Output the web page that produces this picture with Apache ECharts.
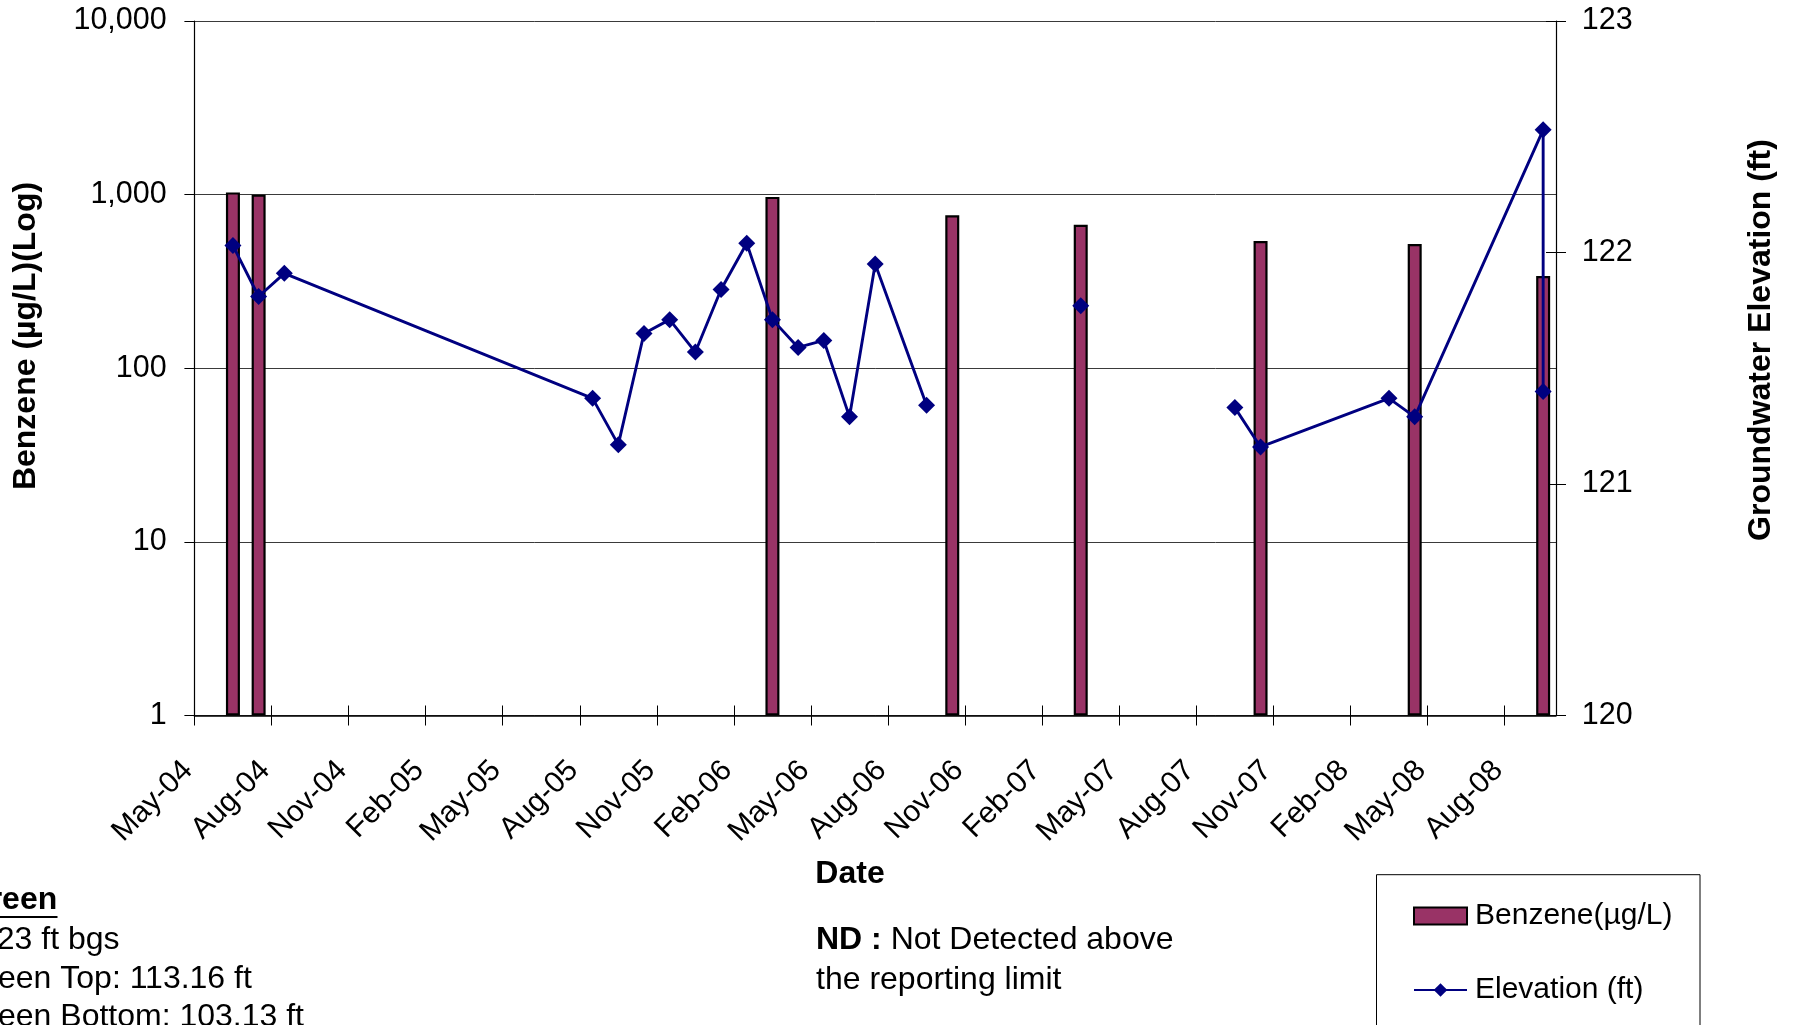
<!DOCTYPE html>
<html>
<head>
<meta charset="utf-8">
<title>Benzene and Groundwater Elevation</title>
<script src="https://cdn.jsdelivr.net/npm/echarts@6/dist/echarts.min.js"></script>
<style>
  html, body { margin: 0; padding: 0; background: #fff; }
  #chart { width: 1800px; height: 1025px; }
</style>
</head>
<body>
<div id="chart"></div>
<script>
// Benzene samples (month sampled, concentration in µg/L)
const sampleMonths = ['2004-06', '2004-07', '2006-03', '2006-10', '2007-03', '2007-10', '2008-04', '2008-09'];
const benzene = [1030, 1000, 970, 760, 670, 540, 520, 340];

// Groundwater gauging (null = not gauged, breaks the line)
const gaugeMonths = ['2004-06', '2004-07', '2004-08', '2005-08', '2005-09', '2005-10', '2005-11', '2005-12',
  '2006-01', '2006-02', '2006-03', '2006-04', '2006-05', '2006-06', '2006-07', '2006-09', '2006-10',
  '2007-03', '2007-06', '2007-09', '2007-10', '2008-03', '2008-04', '2008-09', '2008-09'];
const elevation = [122.03, 121.81, 121.91, 121.37, 121.17, 121.65, 121.71, 121.57,
  121.84, 122.04, 121.71, 121.59, 121.62, 121.29, 121.95, 121.34, null,
  121.77, null, 121.33, 121.16, 121.37, 121.29, 122.53, 121.40];

// Date axis tick labels, one every three months starting May-04
const monthLabels = ['May-04', 'Aug-04', 'Nov-04', 'Feb-05', 'May-05', 'Aug-05', 'Nov-05', 'Feb-06', 'May-06',
  'Aug-06', 'Nov-06', 'Feb-07', 'May-07', 'Aug-07', 'Nov-07', 'Feb-08', 'May-08', 'Aug-08'];

const benzeneTicks = [1, 10, 100, 1000, 10000];
const elevationTicks = [120, 121, 122, 123];

// Months are plotted at their centre, counted from May 2004
const START_YEAR = 2004, START_MONTH = 5, AXIS_MONTHS = 53;
function monthPos(ym) {
  const [y, m] = ym.split('-').map(Number);
  return (y - START_YEAR) * 12 + (m - START_MONTH) + 0.5;
}

const FONT = "'Liberation Sans', Arial, Helvetica, sans-serif";
const BAR_FILL = '#993366';
const LINE_COLOR = '#000080';

const chart = echarts.init(document.getElementById('chart'), null, { renderer: 'canvas' });

const xBase = {
  type: 'value', min: 0, max: AXIS_MONTHS, interval: 3, gridIndex: 0, position: 'bottom',
  splitLine: { show: false }
};
const rightBase = {
  type: 'value', min: elevationTicks[0], max: elevationTicks[elevationTicks.length - 1], interval: 1,
  position: 'right', splitLine: { show: false }
};

chart.setOption({
  backgroundColor: '#ffffff',
  animation: false,
  textStyle: { fontFamily: FONT },
  grid: { left: 194.4, right: 244, top: 21, bottom: 309.5, containLabel: false },
  legend: {
    orient: 'vertical',
    left: 1413, top: 901,
    padding: 0,
    itemGap: 44,
    itemWidth: 53, itemHeight: 17,
    textStyle: { fontFamily: FONT, fontSize: 30, color: '#000', padding: [0, 0, 0, 3] },
    data: [{ name: 'Benzene(µg/L)', icon: 'rect' }, { name: 'Elevation (ft)' }]
  },
  xAxis: [
    Object.assign({}, xBase, {
      axisLine: { onZero: false, lineStyle: { color: '#000', width: 1.5 } },
      axisTick: { length: 10, lineStyle: { color: '#000', width: 1 } },
      axisLabel: {
        showMaxLabel: false,
        rotate: 45, margin: 44, align: 'right', verticalAlign: 'middle',
        padding: [0, 9, 0, 0],
        fontFamily: FONT, fontSize: 30, color: '#000',
        formatter: v => (v % 3 === 0 && monthLabels[v / 3]) ? monthLabels[v / 3] : ''
      }
    }),
    Object.assign({}, xBase, {
      axisLine: { show: false, onZero: false },
      axisTick: { inside: true, length: 10, lineStyle: { color: '#000', width: 1 } },
      axisLabel: { show: false }
    })
  ],
  yAxis: [
    {
      type: 'log', logBase: 10, min: benzeneTicks[0], max: benzeneTicks[benzeneTicks.length - 1],
      position: 'left',
      axisLine: { show: true, onZero: false, lineStyle: { color: '#000', width: 1.2 } },
      axisTick: { show: true, length: 10, lineStyle: { color: '#000', width: 1 } },
      axisLabel: {
        margin: 27.7, fontFamily: FONT, fontSize: 30.5, color: '#000',
        formatter: v => Number(v).toLocaleString('en-US')
      },
      splitLine: { show: true, lineStyle: { color: '#3a3a3a', width: 1 } }
    },
    Object.assign({}, rightBase, {
      axisLine: { show: true, onZero: false, lineStyle: { color: '#000', width: 1.2 } },
      axisTick: { show: true, length: 10, lineStyle: { color: '#000', width: 1 } },
      axisLabel: { margin: 25.7, fontFamily: FONT, fontSize: 30.5, color: '#000' }
    }),
    Object.assign({}, rightBase, {
      axisLine: { show: false, onZero: false },
      axisTick: { show: true, inside: true, length: 10, lineStyle: { color: '#000', width: 1 } },
      axisLabel: { show: false }
    })
  ],
  series: [
    {
      name: 'Benzene(µg/L)',
      type: 'bar',
      xAxisIndex: 0, yAxisIndex: 0,
      barWidth: 14,
      itemStyle: { color: BAR_FILL, borderColor: '#000', borderWidth: 2.2 },
      data: sampleMonths.map((m, i) => [monthPos(m), benzene[i]]),
      z: 2
    },
    {
      name: 'Elevation (ft)',
      type: 'line',
      xAxisIndex: 0, yAxisIndex: 1,
      connectNulls: false,
      symbol: 'diamond', symbolSize: 17,
      lineStyle: { color: LINE_COLOR, width: 2.9 },
      itemStyle: { color: LINE_COLOR },
      data: gaugeMonths.map((m, i) => [monthPos(m), elevation[i] == null ? '-' : elevation[i]]),
      z: 3
    }
  ],
  graphic: [
    {
      type: 'rect', shape: { x: 1376.5, y: 874.7, width: 323.5, height: 220 },
      style: { fill: 'none', stroke: '#000', lineWidth: 1 }, z: -1
    },
    {
      type: 'text', x: 26.5, y: 336, rotation: Math.PI / 2,
      style: { text: 'Benzene (µg/L)(Log)', font: `bold 32px ${FONT}`, fill: '#000', align: 'center', verticalAlign: 'middle' }
    },
    {
      type: 'text', x: 1761.5, y: 340, rotation: Math.PI / 2,
      style: { text: 'Groundwater Elevation (ft)', font: `bold 32px ${FONT}`, fill: '#000', align: 'center', verticalAlign: 'middle' }
    },
    {
      type: 'text', x: 850, y: 874,
      style: { text: 'Date', font: `bold 32px ${FONT}`, fill: '#000', align: 'center', verticalAlign: 'middle' }
    },
    {
      type: 'text', x: 816, y: 920,
      style: {
        text: '{b|ND :} Not Detected above\nthe reporting limit',
        font: `32px ${FONT}`, fill: '#000', align: 'left', verticalAlign: 'top', lineHeight: 40,
        rich: { b: { font: `bold 32px ${FONT}`, fill: '#000', lineHeight: 40 } }
      }
    },
    {
      type: 'text', x: -49.5, y: 900,
      style: { text: 'Screen', font: `bold 32px ${FONT}`, fill: '#000', align: 'left', verticalAlign: 'middle' }
    },
    {
      type: 'line', shape: { x1: -49.5, y1: 917, x2: 57.5, y2: 917 },
      style: { stroke: '#000', lineWidth: 2 }
    },
    {
      type: 'text', x: -49.5, y: 940,
      style: { text: '13-23 ft bgs', font: `32px ${FONT}`, fill: '#000', align: 'left', verticalAlign: 'middle' }
    },
    {
      type: 'text', x: -50, y: 979,
      style: { text: 'Screen Top: 113.16 ft', font: `32px ${FONT}`, fill: '#000', align: 'left', verticalAlign: 'middle' }
    },
    {
      type: 'text', x: -50, y: 1017,
      style: { text: 'Screen Bottom: 103.13 ft', font: `32px ${FONT}`, fill: '#000', align: 'left', verticalAlign: 'middle' }
    }
  ]
});
</script>
</body>
</html>
